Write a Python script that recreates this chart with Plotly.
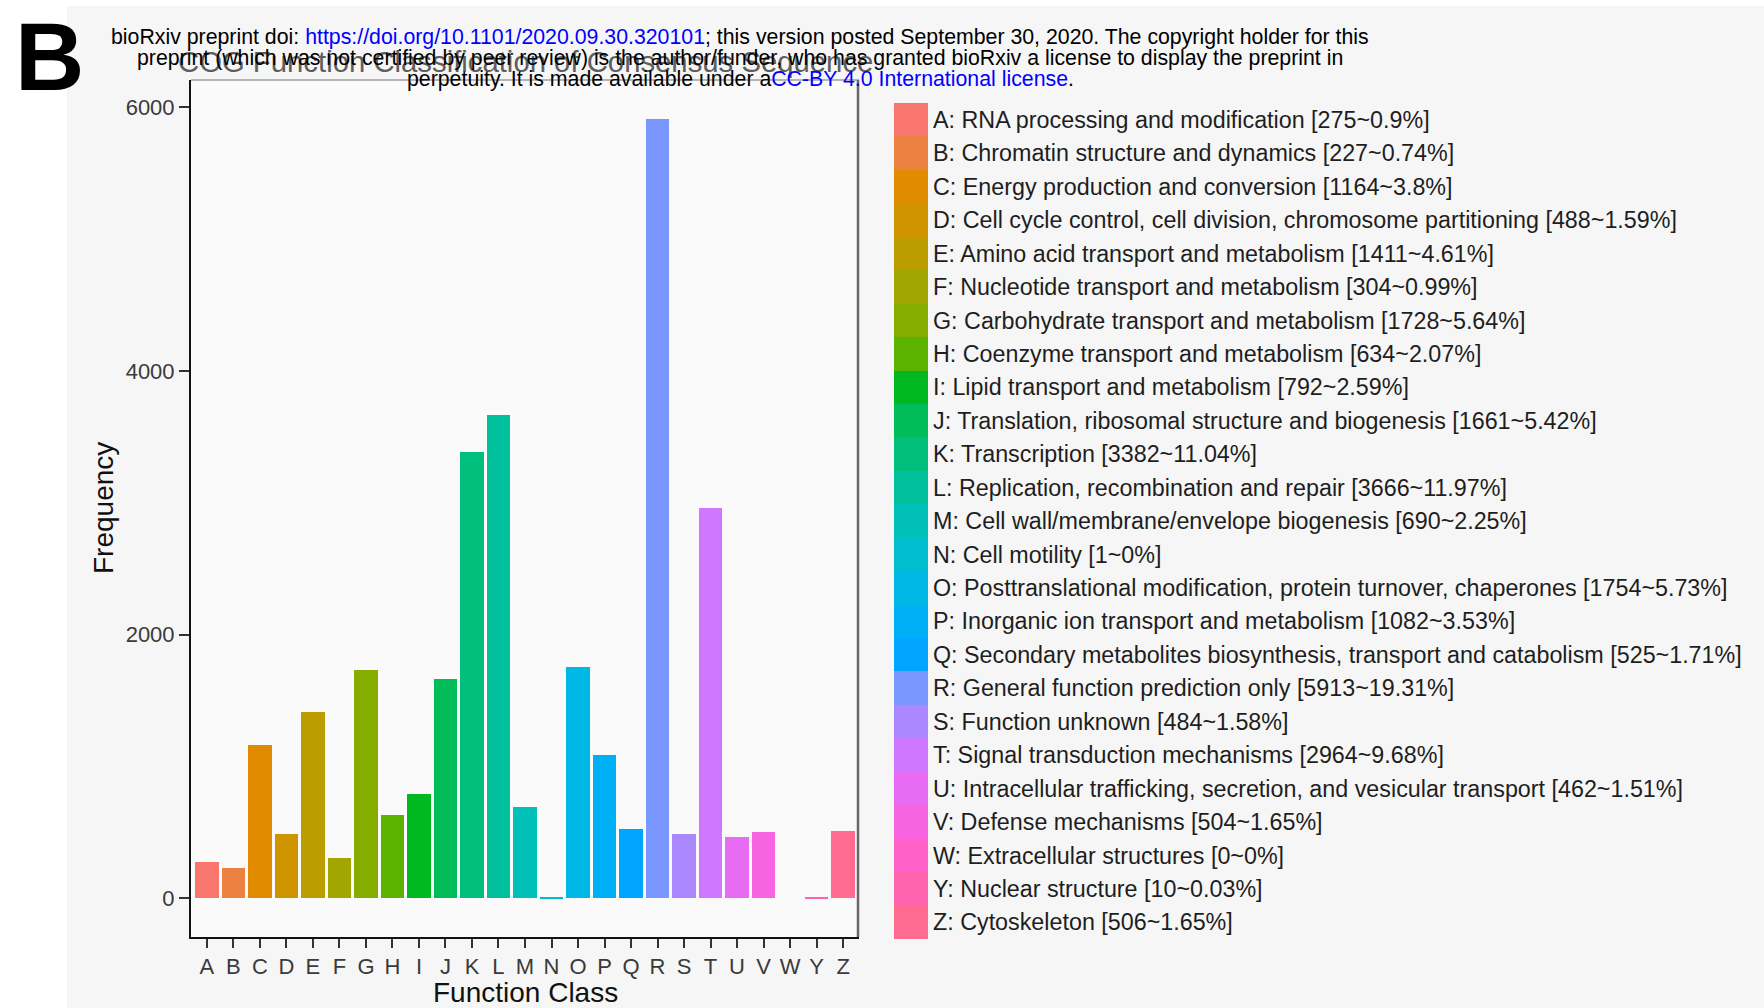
import math
import plotly.graph_objects as go

# ---- data -------------------------------------------------------------
codes = list("ABCDEFGHIJKLMNOPQRSTUVWYZ")
descriptions = [
    "RNA processing and modification",
    "Chromatin structure and dynamics",
    "Energy production and conversion",
    "Cell cycle control, cell division, chromosome partitioning",
    "Amino acid transport and metabolism",
    "Nucleotide transport and metabolism",
    "Carbohydrate transport and metabolism",
    "Coenzyme transport and metabolism",
    "Lipid transport and metabolism",
    "Translation, ribosomal structure and biogenesis",
    "Transcription",
    "Replication, recombination and repair",
    "Cell wall/membrane/envelope biogenesis",
    "Cell motility",
    "Posttranslational modification, protein turnover, chaperones",
    "Inorganic ion transport and metabolism",
    "Secondary metabolites biosynthesis, transport and catabolism",
    "General function prediction only",
    "Function unknown",
    "Signal transduction mechanisms",
    "Intracellular trafficking, secretion, and vesicular transport",
    "Defense mechanisms",
    "Extracellular structures",
    "Nuclear structure",
    "Cytoskeleton",
]
counts = [275, 227, 1164, 488, 1411, 304, 1728, 634, 792, 1661, 3382, 3666, 690,
          1, 1754, 1082, 525, 5913, 484, 2964, 462, 504, 0, 10, 506]
percents = ["0.9", "0.74", "3.8", "1.59", "4.61", "0.99", "5.64", "2.07", "2.59",
            "5.42", "11.04", "11.97", "2.25", "0", "5.73", "3.53", "1.71", "19.31",
            "1.58", "9.68", "1.51", "1.65", "0", "0.03", "1.65"]
y_ticks = [0, 2000, 4000, 6000]

title_text = "COG Function Classification of Consensus Sequence"
x_title = "Function Class"
y_title = "Frequency"


# ---- ggplot-style hue palette (HCL, c=100, l=65) -----------------------
def hcl_hex(h, c=100.0, l=65.0):
    white_y, white_u, white_v = 100.0, 0.1978398, 0.4683363
    hr = math.radians(h)
    U, V = c * math.cos(hr), c * math.sin(hr)
    Y = white_y * (((l + 16.0) / 116.0) ** 3 if l > 7.999592 else l / 903.3)
    u = U / (13.0 * l) + white_u
    v = V / (13.0 * l) + white_v
    X = 9.0 * Y * u / (4.0 * v)
    Z = -X / 3.0 - 5.0 * Y + 3.0 * Y / v

    def gamma(t):
        return 1.055 * t ** (1.0 / 2.4) - 0.055 if t > 0.00304 else 12.92 * t

    r = gamma((3.240479 * X - 1.537150 * Y - 0.498535 * Z) / white_y)
    g = gamma((-0.969256 * X + 1.875992 * Y + 0.041556 * Z) / white_y)
    b = gamma((0.055648 * X - 0.204043 * Y + 1.057311 * Z) / white_y)
    return "#%02X%02X%02X" % tuple(int(round(255 * min(1.0, max(0.0, k)))) for k in (r, g, b))


n = len(codes)
palette = [hcl_hex(15 + 360.0 * i / n) for i in range(n)]

legend_labels = [f"{c}: {d} [{v}~{p}%]" for c, d, v, p in zip(codes, descriptions, counts, percents)]

# ---- geometry helpers (pixel -> paper) ---------------------------------
W, H = 1764, 1008


def px(xp):
    return xp / W


def py(yp):
    return 1 - yp / H


FONT = "Liberation Sans, Arial, Helvetica, sans-serif"

fig = go.Figure()

# main bar chart
fig.add_trace(go.Bar(
    x=codes, y=counts, marker=dict(color=palette, line=dict(width=0)),
    width=0.88, xaxis="x", yaxis="y", showlegend=False,
    hovertemplate="%{x}: %{y}<extra></extra>",
))

# colour key drawn as a stacked strip with labels on its right
fig.add_trace(go.Bar(
    y=codes, x=[1] * n, orientation="h", width=1,
    marker=dict(color=palette, line=dict(width=0)),
    xaxis="x2", yaxis="y2", showlegend=False, hoverinfo="skip",
))

y_lo, y_hi = 0, max(counts)
span = y_hi - y_lo
tick_font = dict(family=FONT, size=22, color="#3A3A3A")

fig.update_layout(
    width=W, height=H,
    margin=dict(l=0, r=0, t=0, b=0),
    paper_bgcolor="#F6F6F6",
    plot_bgcolor="#FAFAFA",
    bargap=0,
    xaxis=dict(
        domain=[px(191), px(859)], range=[-0.6, n - 0.4], type="category",
        categoryorder="array", categoryarray=codes, anchor="y",
        showgrid=False, zeroline=False, showline=True, linecolor="#111111", linewidth=2,
        ticks="outside", ticklen=9, tickwidth=2, tickcolor="#333333",
        ticklabelstandoff=0, tickfont=tick_font,
    ),
    yaxis=dict(
        domain=[py(937), py(80)], range=[y_lo - 0.05 * span, y_hi + 0.05 * span],
        tickvals=y_ticks, anchor="x",
        showgrid=False, zeroline=False, showline=True, linecolor="#111111", linewidth=2,
        ticks="outside", ticklen=10, tickwidth=2, tickcolor="#333333", tickfont=tick_font,
    ),
    xaxis2=dict(domain=[px(894), px(928)], range=[0, 1], anchor="y2", visible=False),
    yaxis2=dict(
        domain=[py(939), py(103)], range=[n - 0.5, -0.5], type="category",
        categoryorder="array", categoryarray=codes, anchor="x2", side="right",
        tickvals=codes, ticktext=legend_labels, ticks="", showline=False,
        showgrid=False, zeroline=False, ticklabelstandoff=4,
        tickfont=dict(family=FONT, size=23.3, color="#1E1E1E"),
    ),
    shapes=[
        # white page margins around the figure panel
        dict(type="rect", xref="paper", yref="paper", x0=0, x1=px(67), y0=0, y1=1,
             fillcolor="white", line=dict(width=0), layer="below"),
        dict(type="rect", xref="paper", yref="paper", x0=0, x1=1, y0=py(6), y1=1,
             fillcolor="white", line=dict(width=0), layer="below"),
        # panel border: top and right edges
        dict(type="line", xref="paper", yref="paper", x0=px(191), x1=px(859),
             y0=py(80), y1=py(80), line=dict(color="#B5B5B5", width=2)),
        dict(type="line", xref="paper", yref="paper", x0=px(858), x1=px(858),
             y0=py(80), y1=py(937), line=dict(color="#666666", width=2.5)),
    ],
)

HEADER_SIZE = 21.3
annotations = [
    dict(text="<b>B</b>", x=px(13), y=py(56), xanchor="left", yanchor="middle",
         font=dict(family=FONT, size=96, color="black")),
    dict(text=title_text, x=px(525), y=py(61), xanchor="center", yanchor="middle",
         font=dict(family=FONT, size=29.3, color="#5E5E5E")),
    dict(text=y_title, x=px(103), y=py(508), xanchor="center", yanchor="middle",
         textangle=-90, font=dict(family=FONT, size=28, color="#111111")),
    dict(text=x_title, x=px(525), y=py(992), xanchor="center", yanchor="middle",
         font=dict(family=FONT, size=28, color="#111111")),
    dict(text="bioRxiv preprint doi: <span style='color:#0000FF'>https://doi.org/10.1101/2020.09.30.320101</span>; "
              "this version posted September 30, 2020. The copyright holder for this",
         x=px(740), y=py(37), xanchor="center", yanchor="middle",
         font=dict(family=FONT, size=HEADER_SIZE, color="black")),
    dict(text="preprint (which was not certified by peer review) is the author/funder, "
              "who has granted bioRxiv a license to display the preprint in",
         x=px(740), y=py(57.5), xanchor="center", yanchor="middle",
         font=dict(family=FONT, size=HEADER_SIZE, color="black")),
    dict(text="perpetuity. It is made available under a"
              "<span style='color:#0000FF'>CC-BY 4.0 International license</span>.",
         x=px(740), y=py(79), xanchor="center", yanchor="middle",
         font=dict(family=FONT, size=HEADER_SIZE, color="black")),
]
for a in annotations:
    a.update(xref="paper", yref="paper", showarrow=False)
fig.update_layout(annotations=annotations)

fig.write_html("out.html")
